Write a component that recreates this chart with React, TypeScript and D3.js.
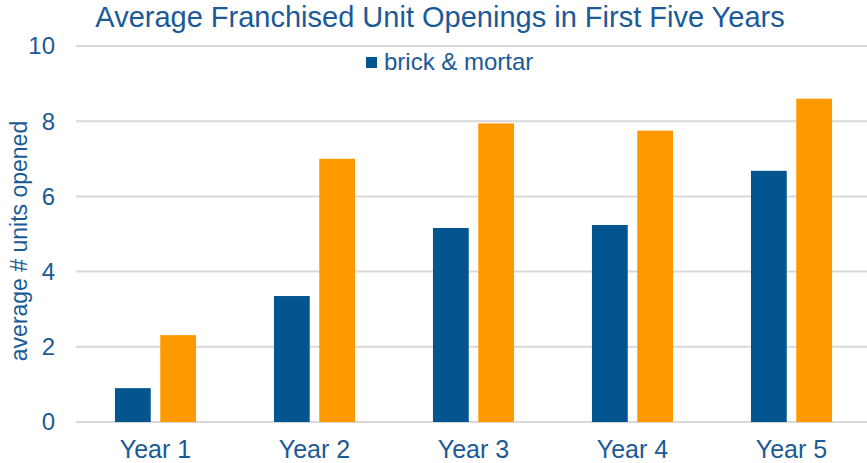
import React from "react";
import * as d3 from "d3";

const categories = ["Year 1", "Year 2", "Year 3", "Year 4", "Year 5"];
const brickMortar = [0.9, 3.35, 5.16, 5.24, 6.68];
const secondSeries = [2.31, 7.0, 7.94, 7.75, 8.6];
const yTicks = [0, 2, 4, 6, 8, 10];
const seriesNames = ["brick & mortar", "other"];

const W = 867;
const H = 463;
const left = 76;
const right = 871;
const top = 46;
const bottom = 422;
const textColor = "#1B5A96";
const blue = "#02558F";
const orange = "#FF9900";
const font = "'Liberation Sans', Arial, sans-serif";

export default function App() {
  const x = d3.scaleBand<string>().domain(categories).range([left, right]).paddingInner(0.49).paddingOuter(0.245);
  const inner = d3.scaleBand<string>().domain(["a", "b"]).range([0, x.bandwidth()]).paddingInner(0.21);
  const y = d3.scaleLinear().domain([0, 10]).range([bottom, top]);
  const series = [brickMortar, secondSeries];
  const colors = [blue, orange];
  return (
    <svg width={W} height={H} style={{ position: "absolute", left: 0, top: 0, background: "#fff" }} fontFamily={font}>
      {yTicks.map((t) => (
        <g key={t}>
          <line x1={left} x2={W} y1={y(t)} y2={y(t)} stroke="#D9D9D9" strokeWidth={2} />
          <text x={55} y={y(t)} dy="0.35em" textAnchor="end" fontSize={24} fill={textColor}>{t}</text>
        </g>
      ))}
      {categories.map((c, i) => (
        <g key={c}>
          {series.map((s, j) => (
            <rect key={j} x={(x(c) as number) + (inner(j === 0 ? "a" : "b") as number)} width={inner.bandwidth()}
              y={y(s[i])} height={y(0) - y(s[i])} fill={colors[j]} />
          ))}
          <text x={(x(c) as number) + x.bandwidth() / 2} y={458} textAnchor="middle" fontSize={25} fill={textColor}>{c}</text>
        </g>
      ))}
      <text transform={`translate(27,241) rotate(-90)`} textAnchor="middle" fontSize={23} fill={textColor}>average # units opened</text>
      <text x={440} y={27} textAnchor="middle" fontSize={29} fill={textColor}>Average Franchised Unit Openings in First Five Years</text>
      <rect x={366} y={57} width={11} height={11} fill={blue} />
      <text x={384} y={70} fontSize={24} fill={textColor}>{seriesNames[0]}</text>
    </svg>
  );
}
